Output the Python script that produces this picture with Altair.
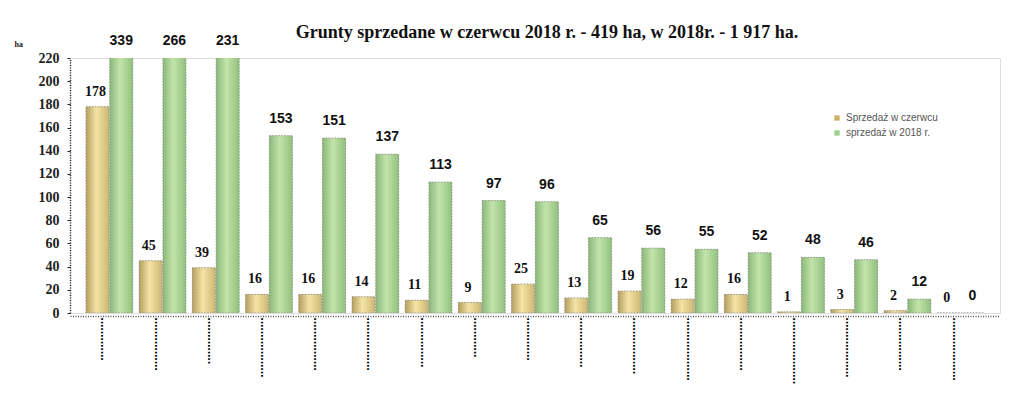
import altair as alt
import pandas as pd

# ---- data ----
categories = list(range(1, 18))
# x-axis tick labels are illegible dotted rotated text in the reference
tick_labels = [
    ".............", "................", "..............", "..................",
    "................", "................", "...............", "............",
    ".............", "...............", ".................", "...................",
    "................", "....................", "..................", "................",
    "...................",
]
june_sales = [178, 45, 39, 16, 16, 14, 11, 9, 25, 13, 19, 12, 16, 1, 3, 2, 0]
year_sales = [339, 266, 231, 153, 151, 137, 113, 97, 96, 65, 56, 55, 52, 48, 46, 12, 0]
series = ["Sprzedaż w czerwcu", "sprzedaż w 2018 r."]
title_text = "Grunty  sprzedane w czerwcu  2018 r. -  419 ha, w 2018r. - 1 917 ha."

rows = []
for i, c in enumerate(categories):
    rows.append({"idx": c, "series": series[0], "value": june_sales[i]})
    rows.append({"idx": c, "series": series[1], "value": year_sales[i]})
df = pd.DataFrame(rows)

YMAX = 220
label_js = "[" + ",".join("'" + s + "'" for s in tick_labels) + "][datum.value-1]"

x_enc = alt.X(
    "idx:O",
    scale=alt.Scale(paddingInner=0.12, paddingOuter=0.3),
    axis=alt.Axis(
        title=None, labelExpr=label_js, labelAngle=-90, labelAlign="right",
        labelBaseline="middle", labelOverlap=False, labelLimit=200,
        labelPadding=1, labelOffset=-10, ticks=False, domainColor="#555",
        domainDash=[1, 1.5], domainWidth=1.5, offset=3,
    ),
)
xo_enc = alt.XOffset("series:N", scale=alt.Scale(domain=series, paddingInner=0.03))

y_axis = alt.Axis(
    title="ha", titleAngle=0, titleX=-56, titleY=-10, titleAlign="left",
    values=list(range(0, YMAX + 1, 20)), grid=False, labelOverlap=False,
    labelPadding=8, tickSize=3, tickColor="#222",
    domainColor="#222", domainDash=[1, 1.5], domainWidth=1.5,
)
y_scale = alt.Scale(domain=[0, YMAX], nice=False)


def y_enc(field):
    return alt.Y(field, scale=y_scale, axis=y_axis)


gold_grad = alt.Gradient(
    gradient="linear", x1=0, x2=1, y1=0, y2=0,
    stops=[alt.GradientStop(offset=0, color="#b49e5e"),
           alt.GradientStop(offset=0.45, color="#f4e4a4"),
           alt.GradientStop(offset=1, color="#cdb674")],
)
green_grad = alt.Gradient(
    gradient="linear", x1=0, x2=1, y1=0, y2=0,
    stops=[alt.GradientStop(offset=0, color="#8cb87a"),
           alt.GradientStop(offset=0.45, color="#c2e4aa"),
           alt.GradientStop(offset=1, color="#92c07e")],
)

base = alt.Chart(df).transform_calculate(ylab=f"min(datum.value, {YMAX})")

legend_layer = base.mark_bar(clip=True).encode(
    x=x_enc, xOffset=xo_enc, y=y_enc("value:Q"),
    color=alt.Color(
        "series:N",
        scale=alt.Scale(domain=series, range=["#c9b264", "#9fd08a"]),
        legend=alt.Legend(
            title=None, orient="none", legendX=762, legendY=55,
            symbolType="square", symbolSize=28, labelFont="Liberation Sans",
            labelFontSize=10, labelColor="#555", rowPadding=5, symbolStrokeWidth=0,
        ),
    ),
)

bar_style = dict(clip=True, stroke="#8a8a8a", strokeWidth=0.8, strokeDash=[1.5, 1.5])
gold_bars = base.transform_filter(alt.datum.series == series[0]).mark_bar(
    fill=gold_grad, **bar_style).encode(x=x_enc, xOffset=xo_enc, y=y_enc("value:Q"))
green_bars = base.transform_filter(alt.datum.series == series[1]).mark_bar(
    fill=green_grad, **bar_style).encode(x=x_enc, xOffset=xo_enc, y=y_enc("value:Q"))

gold_text = base.transform_filter(alt.datum.series == series[0]).mark_text(
    font="Liberation Serif", fontWeight="bold", fontSize=14, color="#111",
    baseline="alphabetic", dy=-11, dx=-2,
).encode(x=x_enc, xOffset=xo_enc, y=y_enc("ylab:Q"), text="value:Q")
green_text = base.transform_filter(alt.datum.series == series[1]).mark_text(
    font="Liberation Sans", fontWeight="bold", fontSize=14, color="#111",
    baseline="alphabetic", dy=-13,
).encode(x=x_enc, xOffset=xo_enc, y=y_enc("ylab:Q"), text="value:Q")

chart = alt.layer(legend_layer, gold_bars, green_bars, gold_text, green_text).properties(
    width=930, height=255,
    title=alt.TitleParams(
        title_text, font="Liberation Serif", fontSize=18, fontWeight="bold",
        color="#111", anchor="middle", frame="group", dx=12, dy=26, offset=18,
    ),
    autosize=alt.AutoSizeParams(type="none"),
    padding={"left": 70, "top": 58, "right": 24, "bottom": 100},
).configure_view(stroke=None).configure(background="white").configure_axisY(
    labelFont="Liberation Serif", labelFontSize=14, labelFontWeight="bold",
    labelColor="#222", titleFont="Liberation Serif", titleFontSize=8,
    titleFontWeight="bold", titleColor="#222",
).configure_axisX(
    labelFont="Liberation Sans", labelFontWeight="bold", labelFontSize=12,
    labelColor="#000",
)

chart.save("out.html", embed_options={"renderer": "svg", "actions": False})
